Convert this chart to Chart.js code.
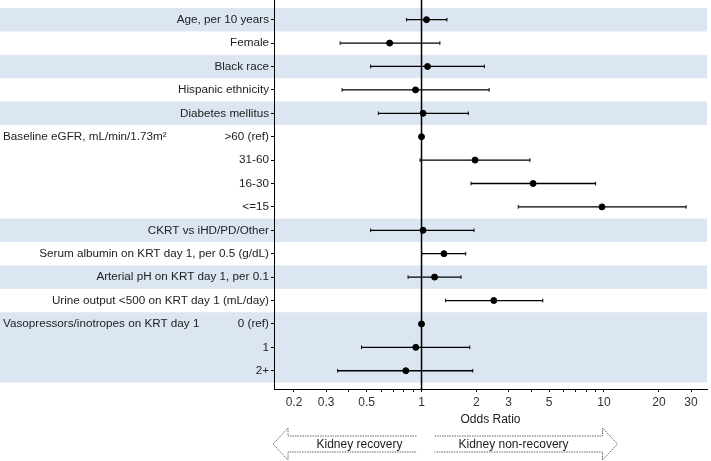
<!DOCTYPE html>
<html>
<head>
<meta charset="utf-8">
<script src="https://cdn.jsdelivr.net/npm/chart.js@4/dist/chart.umd.min.js"></script>
<style>
  body { margin: 0; background: #fff; }
  #wrap { width: 711px; height: 461px; }
</style>
</head>
<body>
<div id="wrap"><canvas id="forest" width="711" height="461"></canvas></div>
<script>
// Rows, top to bottom
const rowLabels = [
  'Age, per 10 years', 'Female', 'Black race', 'Hispanic ethnicity', 'Diabetes mellitus',
  '>60 (ref)', '31-60', '16-30', '<=15',
  'CKRT vs iHD/PD/Other', 'Serum albumin on KRT day 1, per 0.5 (g/dL)',
  'Arterial pH on KRT day 1, per 0.1', 'Urine output <500 on KRT day 1 (mL/day)',
  '0 (ref)', '1', '2+'
];
// Odds ratios and 95% CI (null = reference level, no interval)
const oddsRatio = [1.065, 0.669, 1.079, 0.927, 1.02, 1, 1.966, 4.09, 9.75, 1.02, 1.327, 1.179, 2.49, 1, 0.93, 0.82];
const ciLow  = [0.827, 0.358, 0.526, 0.367, 0.58, null, 0.982, 1.868, 3.39, 0.526, 1.004, 0.844, 1.356, null, 0.469, 0.347];
const ciHigh = [1.378, 1.261, 2.212, 2.348, 1.806, null, 3.93, 9.0, 28.2, 1.94, 1.747, 1.646, 4.62, null, 1.838, 1.91];

// Group headings: [row index, text]
const groupHeads = [[5, 'Baseline eGFR, mL/min/1.73m\u00b2'], [13, 'Vasopressors/inotropes on KRT day 1']];
// Shaded row bands: [first row, last row]
const bandRows = [[0, 0], [2, 2], [4, 4], [9, 9], [11, 11], [13, 15]];

const xTicks = [0.2, 0.3, 0.4, 0.5, 0.6, 0.7, 0.8, 0.9, 1, 2, 3, 4, 5, 6, 7, 8, 9, 10, 20, 30];
const xTickLabels = [0.2, 0.3, 0.5, 1, 2, 3, 5, 10, 20, 30];

const Y_MIN = -0.84, Y_MAX = 15.78;
const FONT = 'Arial, "Liberation Sans", sans-serif';

const ciData = [];
oddsRatio.forEach((v, i) => {
  if (ciLow[i] == null) return;
  ciData.push({ x: ciLow[i], y: i }, { x: ciHigh[i], y: i }, { x: null, y: null });
});

const bandPlugin = {
  id: 'bands',
  beforeDraw(chart) {
    const { ctx, chartArea, scales: { y } } = chart;
    ctx.save();
    ctx.fillStyle = '#dce5f2';
    bandRows.forEach(([a, b]) => {
      const y1 = y.getPixelForValue(a - 0.5);
      const y2 = y.getPixelForValue(b + 0.5);
      ctx.fillRect(0, y1, chartArea.right, y2 - y1);
    });
    ctx.restore();
  }
};

const extrasPlugin = {
  id: 'extras',
  afterDraw(chart) {
    const { ctx, chartArea, scales: { x, y } } = chart;
    ctx.save();
    // group headings
    ctx.fillStyle = '#222';
    ctx.font = '11.7px ' + FONT;
    ctx.textBaseline = 'middle';
    ctx.textAlign = 'left';
    groupHeads.forEach(([row, txt]) => ctx.fillText(txt, 3, y.getPixelForValue(row)));

    // direction arrows under the axis
    const x1 = x.getPixelForValue(1);
    const cy = 444;
    ctx.strokeStyle = '#666';
    ctx.lineWidth = 1;
    ctx.setLineDash([1.5, 1]);
    // left arrow
    const lTip = chartArea.left - 1, lBase = lTip + 15, lEnd = x1 - 5;
    ctx.beginPath();
    ctx.moveTo(lEnd, cy - 8); ctx.lineTo(lBase, cy - 8); ctx.lineTo(lBase, cy - 16);
    ctx.lineTo(lTip, cy); ctx.lineTo(lBase, cy + 16); ctx.lineTo(lBase, cy + 8); ctx.lineTo(lEnd, cy + 8);
    ctx.stroke();
    // right arrow
    const rStart = x1 + 13, rBase = x1 + 181, rTip = rBase + 15;
    ctx.beginPath();
    ctx.moveTo(rStart, cy - 8); ctx.lineTo(rBase, cy - 8); ctx.lineTo(rBase, cy - 16);
    ctx.lineTo(rTip, cy); ctx.lineTo(rBase, cy + 16); ctx.lineTo(rBase, cy + 8); ctx.lineTo(rStart, cy + 8);
    ctx.stroke();
    ctx.setLineDash([]);

    ctx.font = '12px ' + FONT;
    ctx.fillStyle = '#222';
    ctx.textAlign = 'center';
    ctx.fillText('Kidney recovery', x1 - 62, cy + 1);
    ctx.fillText('Kidney non-recovery', x1 + 92, cy + 1);
    ctx.restore();
  }
};

new Chart(document.getElementById('forest'), {
  type: 'scatter',
  data: {
    datasets: [
      {
        label: 'OR',
        data: oddsRatio.map((v, i) => ({ x: v, y: i })),
        backgroundColor: '#000',
        borderColor: '#000',
        pointRadius: 3,
        order: 0
      },
      {
        label: '95% CI',
        type: 'line',
        data: ciData,
        borderColor: '#000',
        borderWidth: 1.3,
        pointStyle: 'line',
        rotation: 90,
        pointRadius: 1.8,
        pointBorderWidth: 1,
        pointBorderColor: '#000',
        spanGaps: false,
        order: 1
      },
      {
        label: 'ref',
        type: 'line',
        data: [{ x: 1, y: Y_MIN }, { x: 1, y: Y_MAX }],
        borderColor: '#000',
        borderWidth: 1.5,
        pointRadius: 0,
        order: 2
      }
    ]
  },
  options: {
    responsive: false,
    animation: false,
    layout: { autoPadding: false, padding: { left: 0, right: 4, top: 0, bottom: 0 } },
    plugins: { legend: { display: false }, tooltip: { enabled: false } },
    scales: {
      x: {
        type: 'logarithmic',
        min: 0.1554,
        max: 36.7,
        afterBuildTicks: s => { s.ticks = xTicks.map(v => ({ value: v })); },
        afterFit: s => { s.height = 72; s.paddingLeft = 0; s.paddingRight = 0; },
        grid: { drawOnChartArea: false, tickLength: 3, color: '#000' },
        border: { color: '#000', width: 1 },
        ticks: {
          autoSkip: false,
          maxRotation: 0,
          padding: 3,
          color: '#333',
          font: { family: FONT, size: 12 },
          callback: v => xTickLabels.includes(v) ? String(v) : ''
        },
        title: {
          display: true,
          text: 'Odds Ratio',
          color: '#222',
          font: { family: FONT, size: 12 },
          padding: { top: 0, bottom: 34.5 }
        }
      },
      y: {
        type: 'linear',
        reverse: true,
        min: Y_MIN,
        max: Y_MAX,
        afterBuildTicks: s => { s.ticks = rowLabels.map((_, i) => ({ value: i })); },
        afterFit: s => { s.width = 274; s.paddingTop = 0; s.paddingBottom = 0; },
        grid: { drawOnChartArea: false, tickLength: 3, color: '#000' },
        border: { color: '#000', width: 1 },
        ticks: {
          autoSkip: false,
          padding: 2,
          color: '#222',
          font: { family: FONT, size: 11.7 },
          callback: v => rowLabels[v]
        }
      }
    }
  },
  plugins: [bandPlugin, extrasPlugin]
});
</script>
</body>
</html>
